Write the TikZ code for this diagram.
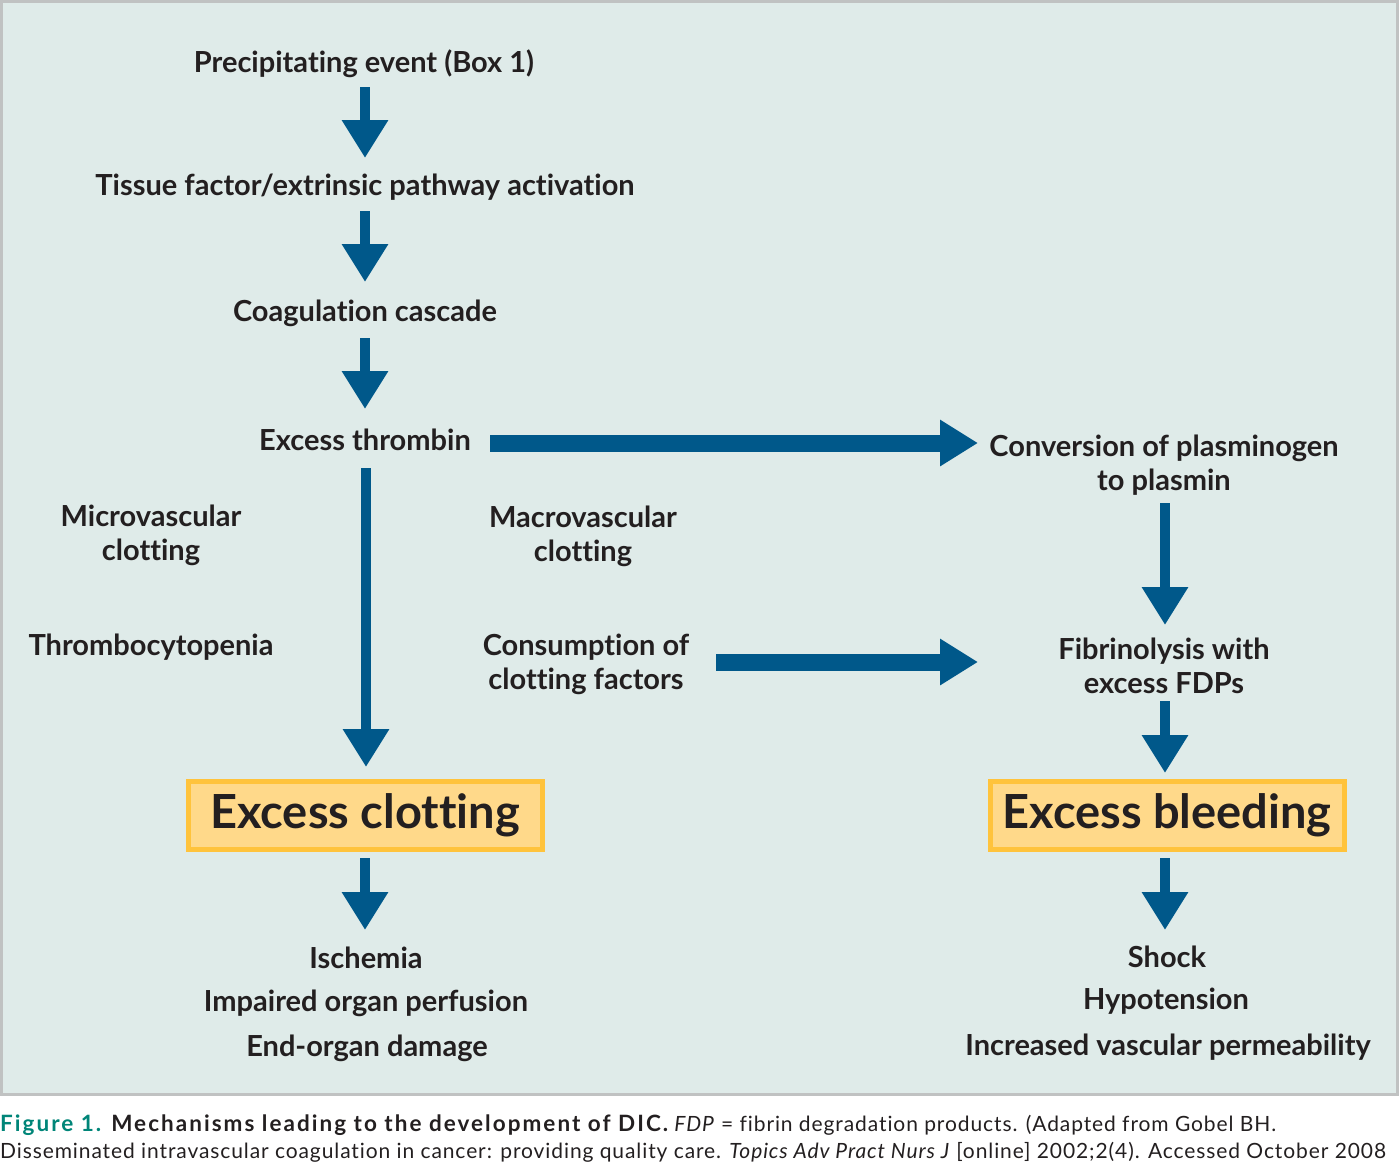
\documentclass[tikz,border=0pt]{standalone}
\usepackage{fontspec}
\setmainfont{Lato}[Ligatures=CommonOff]
\newfontfamily\capfont{Lato}[LetterSpace=4.3, BoldFeatures={LetterSpace=9}, Ligatures=CommonOff]
\usetikzlibrary{arrows.meta}
\definecolor{panelbg}{RGB}{223,235,233}
\definecolor{panelframe}{RGB}{192,194,194}
\definecolor{arrowblue}{RGB}{0,88,138}
\definecolor{boxfill}{RGB}{255,217,138}
\definecolor{boxframe}{RGB}{255,195,60}
\definecolor{ink}{RGB}{35,31,32}
\definecolor{figteal}{RGB}{0,133,120}
\tikzset{
  lbl/.style={inner sep=0pt, text=ink, font=\fontsize{29}{34}\selectfont\bfseries, align=center, text height=21pt, text depth=2pt},
  lbl2/.style={inner sep=0pt, text=ink, font=\fontsize{29}{34}\selectfont\bfseries, align=center},
  bigbox/.style={draw=boxframe, fill=boxfill, line width=5pt, minimum width=354pt, minimum height=68pt, inner sep=0pt, text=ink, font=\fontsize{47}{50}\selectfont\bfseries},
  varrow/.style={draw=arrowblue, line width=10pt, -{Triangle[width=44pt,length=38pt]}},
  harrow/.style={draw=arrowblue, line width=17pt, -{Triangle[width=44pt,length=38pt]}},
  captext/.style={inner sep=0pt, anchor=base west, text=ink, font=\capfont\fontsize{21}{25}\selectfont},
}
\begin{document}
\begin{tikzpicture}[x=1pt,y=-1pt]
\useasboundingbox (0,0) rectangle (1400,1162);
\draw[fill=panelbg, draw=panelframe, line width=3pt] (1.5,1.5) rectangle (1397.5,1094);

\node[lbl] (pe) at (364,63) {Precipitating event (Box 1)};
\node[lbl] (tf) at (365,186) {Tissue factor/extrinsic pathway activation};
\node[lbl] (cc) at (365,312) {Coagulation cascade};
\node[lbl] (et) at (365,441) {Excess thrombin};
\node[lbl2] (conv) at (1164,465) {Conversion of plasminogen\\to plasmin};
\node[lbl2] (micro) at (151,535) {Microvascular\\clotting};
\node[lbl2] (macro) at (583,536) {Macrovascular\\clotting};
\node[lbl] (thromb) at (151,646) {Thrombocytopenia};
\node[lbl2] (cons) at (586,664) {Consumption of\\clotting factors};
\node[lbl2] (fib) at (1164,666) {Fibrinolysis with\\excess FDPs};
\node[bigbox] (clot) at (365,815) {Excess clotting};
\node[bigbox] (bleed) at (1167,815) {Excess bleeding};
\node[lbl] (isch) at (366,959) {Ischemia};
\node[lbl] (perf) at (366,1002) {Impaired organ perfusion};
\node[lbl] (dmg) at (367,1047) {End-organ damage};
\node[lbl] (shock) at (1167,958) {Shock};
\node[lbl] (hypo) at (1166,1000) {Hypotension};
\node[lbl] (perm) at (1168,1046) {Increased vascular permeability};

\draw[varrow] ([shift={(1pt,-24pt)}]pe.center) -- ([yshift=28pt]tf.center);
\draw[varrow] ([yshift=-25pt]tf.center) -- ([yshift=30pt]cc.center);
\draw[varrow] ([yshift=-26pt]cc.center) -- ([yshift=32pt]et.center);
\draw[varrow] ([shift={(1pt,-27pt)}]et.center) -- ([shift={(1pt,48pt)}]clot.center);
\draw[harrow] ([shift={(125pt,-2pt)}]et.center) -- ([shift={(-186pt,22pt)}]conv.center);
\draw[varrow] ([shift={(1pt,-38pt)}]conv.center) -- ([shift={(1pt,41pt)}]fib.center);
\draw[harrow] ([shift={(130pt,2pt)}]cons.center) -- ([shift={(-186pt,4pt)}]fib.center);
\draw[varrow] ([shift={(1pt,-35pt)}]fib.center) -- ([shift={(-2pt,42pt)}]bleed.center);
\draw[varrow] ([yshift=-43pt]clot.center) -- ([shift={(-1pt,29pt)}]isch.center);
\draw[varrow] ([shift={(-2pt,-43pt)}]bleed.center) -- ([shift={(-2pt,28pt)}]shock.center);

\node[captext] (cap1) at (0,1131) {{\fontsize{22.5}{25}\selectfont\bfseries{\color{figteal}Figure 1.} Mechanisms leading to the development of DIC.} \textit{FDP} = fibrin degradation products. (Adapted from Gobel BH.};
\node[captext] (cap2) at (0,1158) {Disseminated intravascular coagulation in cancer: providing quality care. \textit{Topics Adv Pract Nurs J} [online] 2002;2(4). Accessed October 2008};
\end{tikzpicture}
\end{document}
